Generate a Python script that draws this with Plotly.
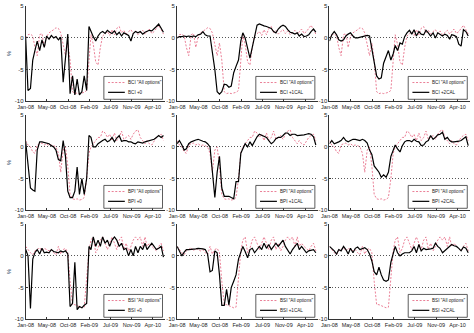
import plotly.graph_objects as go
import pandas as pd

# half-monthly observation dates, Jan-2008 .. Jun-2010
dates = [pd.Timestamp(year=2008 + (i // 2) // 12, month=(i // 2) % 12 + 1, day=1 if i % 2 == 0 else 16)
         for i in range(60)]

tick_dates = [pd.Timestamp("2008-01-01") + pd.Timedelta(days=138 * k) for k in range(7)]
tick_text = [d.strftime("%b-%y") for d in tick_dates]

bci_all = [0, 0.5, 0.6, 0.3, -1.5, -2.8, 0.5, 0.7, -1.5, 0.2, 0.8, 1.0, 1.3, 1.6, 1.5, 0.8,
           -1.0, -2.8, -0.8, -3.5, -8.5, -8.8, -8.7, -8.8, -8.7, -8.6, -8.3, -3.0, 0.5, -1.0,
           -3.8, -4.3, -1.5, 0.3, 0.6, 1.0, 0.4, 1.3, 0.5, 1.5, 1.8, 0.8, 1.2, 0.6, 1.0, 1.3,
           0.7, 1.1, 0.5, 0.9, 1.2, 0.6, 1.0, 1.4, 0.7, 1.0, 1.5, 2.0, 1.3, 0.6]
bci_0 = [0, -8.3, -8.0, -3.5, -2.0, -0.5, -2.0, -0.3, -1.5, 0.3, -0.2, 0.4, 0.0, 0.2, -0.3, 0.1,
         -7.0, -2.5, 0.6, -8.8, -6.0, -9.0, -6.5, -9.0, -8.5, -6.0, -8.3, 1.8, 1.0, 0.2,
         -0.5, 0.3, 0.8, 1.0, 0.7, 1.2, 0.9, 0.7, 1.1, 0.5, 0.9, 0.3, 0.8, 0.6, 0.4, -0.5,
         0.7, 1.0, 0.8, 1.0, 0.6, 0.9, 1.0, 1.2, 1.1, 1.4, 1.8, 2.2, 1.5, 0.9]
bci_1cal = [0, 0.2, 0.2, 0.3, 0.2, 0.3, 0.2, 0.3, 0.2, 0.5, 0.6, 1.0, 0.5, 0.3, 0.3, -2.0,
            -5.0, -8.5, -8.9, -8.5, -7.3, -7.4, -7.8, -7.6, -5.5, -4.5, -3.5, -0.5, 0.8, 0.0,
            -1.5, -3.2, -1.5, 0.0, 2.0, 2.2, 2.0, 1.9, 1.8, 1.7, 1.5, 1.0, 0.8, 1.4, 1.8, 2.0,
            1.8, 1.3, 0.9, 0.8, 0.6, 0.8, 0.3, 0.6, 0.2, 0.3, 0.5, 1.0, 1.4, 0.9]
bci_2cal = [-0.5, 0.5, 1.0, 0.5, -0.3, -0.5, -0.3, 0.3, 0.6, 0.8, 0.3, 0.0, 0.0, 0.1, 0.2, 0.3,
            0.4, 0.3, -2.0, -4.0, -6.0, -6.5, -6.3, -4.0, -3.0, -2.0, -3.5, -2.5, -1.2, -2.0,
            -0.8, -1.0, 0.2, 0.8, 1.2, 0.6, 1.3, 0.3, 1.0, 0.6, 0.5, 1.2, 0.8, 0.3, 0.8, 0.0,
            0.8, 0.5, 0.3, 0.6, 0.4, -0.2, 0.5, 0.4, 0.2, -1.0, -1.3, 1.3, 1.0, 0.3]

bpi_all = [1.0, 0.3, 0.0, -0.8, -1.0, 0.3, 0.5, 0.6, 0.3, 0.5, 0.2, 0.3, 0.2, 0.0, -1.0, -4.0,
           -0.5, 0.0, -3.0, -7.5, -8.2, -8.3, -8.2, -8.4, -8.3, -8.0, -5.0, -1.0, 0.0, 0.5,
           1.0, 1.5, 1.5, 2.5, 2.2, 1.5, 2.0, 1.0, 2.2, 1.0, 1.5, 2.5, 1.2, 1.5, 1.8, 1.2,
           2.0, 2.5, 2.7, 1.5, 1.0, 0.5, 1.0, 0.5, 0.3, 1.0, 1.5, 1.8, 2.0, 1.0]
bpi_0 = [0.8, -3.0, -6.5, -6.8, -7.0, -0.5, 0.8, 0.8, 0.7, 0.6, 0.5, 0.2, 0.0, -0.5, -2.0, -2.2,
         1.0, -1.5, -7.0, -8.0, -8.0, -7.0, -3.2, -7.5, -5.0, -7.5, -5.0, 1.8, 1.5, 0.0,
         0.0, 0.5, 0.8, 1.0, 1.2, 0.8, 1.0, 1.5, 0.8, 1.4, 1.8, 0.9, 1.0, 1.0, 0.8, 0.8,
         0.6, 0.5, 0.8, 0.7, 0.6, 0.8, 0.9, 1.0, 1.1, 1.2, 1.5, 1.8, 1.5, 1.8]
bpi_1cal = [0.5, 1.0, 0.3, -0.5, -0.3, 0.5, 0.8, 1.0, 1.1, 1.2, 1.0, 0.9, 0.8, 0.5, 0.0, -4.0,
            -8.0, -4.0, -1.5, -6.5, -7.8, -7.8, -7.8, -8.0, -8.2, -5.5, -5.5, -1.0, -0.3, 0.5,
            0.0, 0.8, 0.2, 1.0, 1.6, 2.0, 1.8, 1.6, 1.5, 1.0, 0.5, 0.8, 1.3, 1.5, 1.5, 1.8,
            2.2, 2.2, 1.8, 2.0, 2.0, 1.8, 1.8, 1.8, 1.9, 2.0, 2.1, 2.0, 1.6, 0.3]
bpi_2cal = [0.5, 1.0, 0.5, 0.6, 0.8, 1.0, 1.5, 1.0, 0.8, 1.0, 1.2, 1.2, 1.1, 1.0, 1.2, 1.0,
            0.6, -0.5, -1.2, -3.0, -3.5, -4.0, -4.8, -4.4, -4.8, -4.0, -1.5, -0.5, 0.3, -0.3,
            -0.8, 0.2, 0.8, 1.0, 1.0, 0.8, 1.2, 0.9, 0.8, 0.2, 0.3, 0.8, 1.0, 1.8, 1.2, 1.5,
            1.9, 2.0, 2.3, 1.2, 1.5, 1.0, 0.8, 0.8, 0.8, 0.9, 1.0, 1.3, 1.6, 0.2]

bsi_all = [1.5, 1.0, 0.5, 0.2, 0.8, 1.0, 1.3, 0.8, 1.2, 1.0, 0.8, 1.0, 0.5, 0.2, 1.5, 0.3,
           1.0, 1.2, 0.5, -4.0, -7.7, -7.7, -7.9, -8.0, -8.2, -8.1, -3.0, 0.8, 2.5, 3.0,
           0.5, 1.2, 2.5, 3.0, 2.0, 1.0, 2.0, 3.0, 2.0, 1.0, 2.5, 3.0, 1.0, 2.0, 0.8, 1.5,
           2.5, 3.0, 2.5, 3.0, 1.5, 3.0, 1.5, 2.0, 1.5, 1.2, 0.8, 1.5, 2.0, 0.8]
bsi_0 = [1.0, 0.0, -8.3, -0.5, 0.5, 1.0, 0.3, 1.2, 0.5, 0.6, 0.5, 1.0, 0.7, 0.6, 0.5, 0.8,
         0.6, 0.8, 0.3, -8.0, -7.5, -1.0, -8.5, -8.0, -8.2, -7.8, -7.5, 1.5, 1.0, 3.0,
         1.5, 2.5, 1.5, 3.0, 2.0, 2.5, 1.5, 2.5, 3.0, 2.5, 1.5, 2.0, 1.0, 1.2, 0.0, 1.0,
         0.0, 1.5, 0.5, 1.5, 1.0, 2.0, 1.0, 1.5, 2.0, 1.5, 1.0, 1.2, 1.5, -0.2]
bsi_1cal = [1.5, 0.8, 0.0, 0.6, 1.0, 1.0, 1.0, 1.0, 1.1, 1.2, 1.2, 1.1, 1.0, 0.3, -2.5, -2.3,
            0.8, 0.5, -3.0, -7.8, -7.8, -5.3, -7.8, -5.0, -4.0, -3.0, -0.5, 0.8, 1.5, 0.7,
            -0.3, 1.0, 1.2, 0.5, 1.0, 1.5, 1.0, 2.0, 1.2, 1.8, 1.0, 1.5, 2.0, 1.5, 2.0, 2.5,
            1.5, 1.0, 0.3, 1.0, 1.5, 2.0, 1.0, 1.5, 1.0, 0.5, 0.8, 0.9, 1.0, 0.5]
bsi_2cal = [1.5, 1.2, 0.8, 0.3, 1.0, 0.8, 1.5, 1.0, 0.3, 1.2, 0.5, 1.2, 1.4, 1.0, 1.1, 1.3,
            1.0, 0.3, -0.8, -2.5, -3.0, -1.8, -3.0, -3.8, -4.0, -3.8, -1.0, 0.5, 1.5, 0.5,
            0.0, 0.3, 0.5, 0.5, 0.5, 0.8, 1.5, 0.5, 1.8, 0.8, 1.2, 1.0, 1.0, 1.1, 1.2, 2.0,
            1.5, 1.2, 0.5, 0.8, 1.2, 1.5, 1.8, 1.6, 1.5, 1.2, 0.8, 1.4, 1.2, 0.5]

indices = ["BCI", "BPI", "BSI"]
variants = ["+0", "+1CAL", "+2CAL"]
all_series = [bci_all, bpi_all, bsi_all]
panel_series = [[bci_0, bci_1cal, bci_2cal],
                [bpi_0, bpi_1cal, bpi_2cal],
                [bsi_0, bsi_1cal, bsi_2cal]]

W, H = 474, 333
col_px = [(18, 160), (172, 315), (327, 470)]
row_px = [(3, 100), (114, 211), (225, 322)]

RED = "#e8708a"
FONT = "Liberation Sans Narrow, Arial Narrow, sans-serif"
RED_DASH = "2px,1.6px"
GRID_DASH = "1px,2px"

fig = go.Figure()
layout = dict(width=W, height=H, margin=dict(l=0, r=0, t=0, b=0),
              paper_bgcolor="white", plot_bgcolor="white", showlegend=False)
shapes, annotations = [], []

for r in range(3):
    for c in range(3):
        k = r * 3 + c + 1
        xa = "x" if k == 1 else f"x{k}"
        ya = "y" if k == 1 else f"y{k}"
        fig.add_trace(go.Scatter(x=dates, y=all_series[r], mode="lines", xaxis=xa, yaxis=ya,
                                 line=dict(color=RED, width=0.9, dash=RED_DASH)))
        fig.add_trace(go.Scatter(x=dates, y=panel_series[r][c], mode="lines", xaxis=xa, yaxis=ya,
                                 line=dict(color="black", width=1.2)))
        x0, x1 = col_px[c]
        y0, y1 = row_px[r]
        layout[f"xaxis{'' if k == 1 else k}"] = dict(
            domain=[x0 / W, x1 / W], anchor=ya,
            range=[pd.Timestamp("2008-01-01"), pd.Timestamp("2010-06-28")],
            tickvals=tick_dates, ticktext=tick_text, ticks="inside", ticklen=2,
            tickangle=0,
            tickcolor="#333", showline=True, linecolor="#333", linewidth=1,
            showgrid=False, zeroline=False,
            tickfont=dict(family=FONT, size=5.5, color="#222"))
        layout[f"yaxis{'' if k == 1 else k}"] = dict(
            domain=[1 - y1 / H, 1 - y0 / H], anchor=xa,
            range=[-10, 5.05], tickvals=[-10, -5, 0, 5], ticktext=["-10", "-5", "0", "5"],
            ticks="inside", ticklen=2, tickcolor="#333",
            showline=True, linecolor="#333", linewidth=1,
            showgrid=True, gridcolor="#555", griddash=GRID_DASH, gridwidth=0.7,
            zeroline=False, tickfont=dict(family=FONT, size=6, color="#222"),
            title=dict(text="%" if c == 0 else "", font=dict(family=FONT, size=6), standoff=2))
        # legend box
        xd, yd = f"{xa} domain", f"{ya} domain"
        shapes.append(dict(type="rect", xref=xd, yref=yd, x0=0.56, x1=0.98, y0=0.02, y1=0.26,
                           fillcolor="white", line=dict(color="#333", width=0.8)))
        shapes.append(dict(type="line", xref=xd, yref=yd, x0=0.59, x1=0.71, y0=0.196, y1=0.196,
                           line=dict(color=RED, width=0.9, dash=RED_DASH)))
        shapes.append(dict(type="line", xref=xd, yref=yd, x0=0.59, x1=0.71, y0=0.093, y1=0.093,
                           line=dict(color="black", width=1.2)))
        annotations.append(dict(xref=xd, yref=yd, x=0.715, y=0.196, xanchor="left", yanchor="middle",
                                text=f'{indices[r]} "All options"', showarrow=False,
                                font=dict(family=FONT, size=4.6, color="#222")))
        annotations.append(dict(xref=xd, yref=yd, x=0.715, y=0.093, xanchor="left", yanchor="middle",
                                text=f"{indices[r]} {variants[c]}", showarrow=False,
                                font=dict(family=FONT, size=4.6, color="#222")))

layout["shapes"] = shapes
layout["annotations"] = annotations
fig.update_layout(**layout)
fig.write_html("out.html")
